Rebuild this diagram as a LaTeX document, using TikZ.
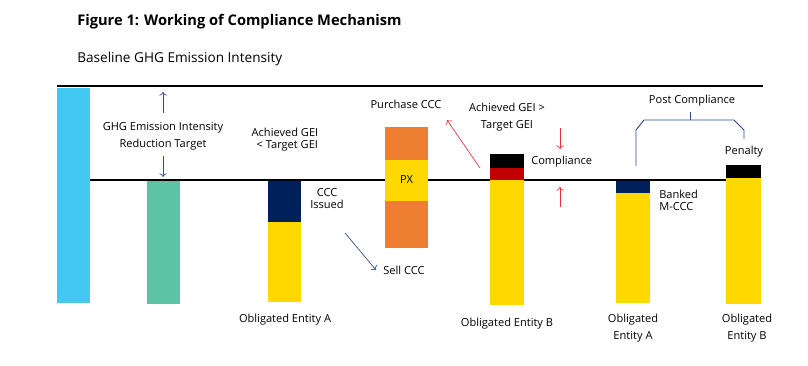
\documentclass[tikz,border=0pt]{standalone}
\usepackage{fontspec}
\setmainfont{Open Sans}
\usetikzlibrary{arrows.meta}
\definecolor{skyblue}{HTML}{42C8F2}
\definecolor{seagreen}{HTML}{5CC3A5}
\definecolor{navy}{HTML}{00205B}
\definecolor{gold}{HTML}{FFD800}
\definecolor{orng}{HTML}{ED7D31}
\definecolor{darkred}{HTML}{C00000}
\definecolor{arrowred}{HTML}{E8303A}
\definecolor{linkblue}{HTML}{2F4A8A}
\tikzset{
  lbl/.style={font=\fontsize{8.3}{12.75}\selectfont, align=center, inner sep=0pt},
  tightlbl/.style={lbl, font=\fontsize{8.3}{9}\selectfont},
  bluearrow/.style={->, draw=linkblue, line width=0.5pt},
  redarrow/.style={->, draw=arrowred, line width=0.5pt},
}

\begin{document}
\begin{tikzpicture}[x=0.75pt, y=-0.75pt]
		%%%%% START %%%%%
		\useasboundingbox (0, 0) rectangle (808, 366);
		
		\node[anchor=west, inner sep=0pt, font=\bfseries\fontsize{11}{13}\selectfont] (title) at (77, 22) {Figure 1: Working of Compliance Mechanism};
		\node[anchor=west, inner sep=0pt, font=\fontsize{10.2}{12}\selectfont] (baseline) at (77, 59) {Baseline GHG Emission Intensity};
		
		\draw[line width=1pt] (57, 86) -- (763, 86);
		\draw[line width=1pt] (90, 180) -- (726, 180);
		
		% baseline and target
		\fill[skyblue] (57, 88) rectangle (90, 303);
		\fill[seagreen] (147, 181) rectangle (180, 304);
		\node[lbl] (target) at (163, 136) {GHG Emission Intensity\\Reduction Target};
		\draw[bluearrow] (163, 113) -- (163, 92);
		\draw[bluearrow] (163, 156) -- (163, 177);
		
		% entity A
		\fill[navy] (268, 181) rectangle (301, 222);
		\fill[gold] (268, 222) rectangle (301, 302);
		\node[tightlbl] (achievedA) at (285, 140) {Achieved GEI\\\ \,< Target GEI};
		\node[tightlbl] (issued) at (327, 199) {CCC\\Issued};
		\draw[bluearrow] (345, 233) -- (376, 270);
		\node[lbl, anchor=west] (sell) at (383, 270) {Sell CCC};
		\node[lbl] (entityA) at (285, 320) {Obligated Entity A};
		
		% purchase
		\fill[orng] (385, 127) rectangle (428, 160);
		\fill[gold] (385, 160) rectangle (428, 201);
		\fill[orng] (385, 201) rectangle (428, 248);
		\node[lbl] (px) at (406.5, 180) {PX};
		\node[lbl] (purchase) at (406, 104) {Purchase CCC};
		
		% entity B
		\fill[black] (490, 154) rectangle (524, 168);
		\fill[darkred] (490, 168) rectangle (524, 180);
		\fill[gold] (490, 180) rectangle (524, 305);
		\draw[redarrow] (480, 168) -- (447, 120);
		\node[lbl] (achievedB) at (507, 117) {Achieved GEI >\\Target GEI};
		\draw[redarrow] (560, 128) -- (560, 149);
		\draw[redarrow] (560, 207) -- (560, 187);
		\node[lbl, anchor=west] (compliance) at (531, 162) {Compliance};
		\node[lbl] (entityB) at (507, 324) {Obligated Entity B};
		
		% post compliance
		\fill[navy] (616, 181) rectangle (650, 193);
		\fill[gold] (616, 193) rectangle (650, 303);
		\node[tightlbl, anchor=west, align=left] (banked) at (659, 200) {Banked\\M-CCC};
		\node[lbl] (postA) at (633, 328) {Obligated\\Entity A};
		
		\fill[black] (726, 165) rectangle (761, 178);
		\fill[gold] (726, 178) rectangle (761, 304);
		\node[lbl] (penalty) at (744, 152) {Penalty};
		\node[lbl] (postB) at (747, 328) {Obligated\\Entity B};
		
		\draw[draw=linkblue, line width=0.7pt] (636, 166) -- (636, 130) -- (644, 120) -- (734, 120) -- (744, 130) -- (744, 139);
		\draw[draw=linkblue, line width=0.7pt] (690, 120) -- (690, 112);
		\node[lbl] (post) at (692, 101) {Post Compliance};
		
		%%%%% END %%%%%
\end{tikzpicture}
\end{document}
